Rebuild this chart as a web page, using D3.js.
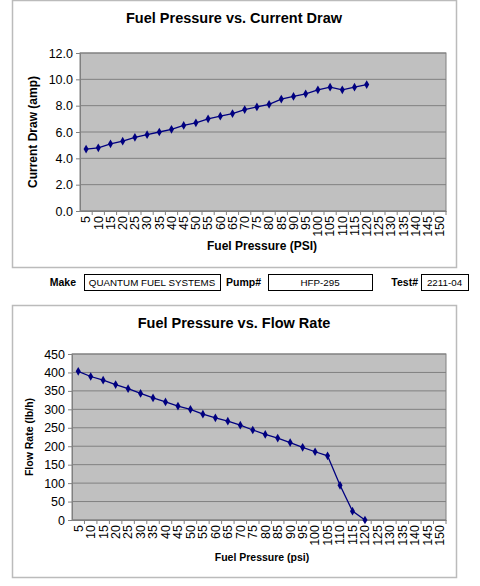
<!DOCTYPE html>
<html><head><meta charset="utf-8">
<script src="https://cdn.jsdelivr.net/npm/d3@7"></script>
<style>body{margin:0;background:#fff;font-family:"Liberation Sans",Arial,sans-serif}</style>
</head><body>
<script>
var pressures = d3.range(5, 155, 5);
var currentDraw = [4.7,4.8,5.1,5.3,5.6,5.8,6.0,6.2,6.5,6.7,7.0,7.2,7.4,7.7,7.9,8.1,8.5,8.7,8.9,9.2,9.4,9.2,9.4,9.6];
var flowRate = [403,389,379,367,356,343,331,320,309,300,287,277,268,257,244,232,222,210,197,185,174,94,24,0];
var currentTicks = [0,2,4,6,8,10,12];
var flowTicks = d3.range(0, 500, 50);

var svg = d3.select("body").append("svg").attr("width", 480).attr("height", 586);

function drawChart(cfg) {
  var g = svg.append("g");
  g.append("rect").attr("x", 12.5).attr("y", cfg.top + 0.5).attr("width", 444).attr("height", cfg.h)
    .attr("fill", "#fff").attr("stroke", "#bbb").attr("stroke-width", 1.5);
  g.append("text").attr("x", 234).attr("y", cfg.top + 23).attr("text-anchor", "middle")
    .attr("font-size", 14.5).attr("font-weight", "bold").text(cfg.title);

  var x = d3.scaleBand().domain(pressures).range([cfg.left, 446]);
  var y = d3.scaleLinear().domain(cfg.domain).range([cfg.bottom, cfg.plotTop]);

  g.append("rect").attr("x", cfg.left).attr("y", cfg.plotTop).attr("width", 446 - cfg.left)
    .attr("height", cfg.bottom - cfg.plotTop).attr("fill", "#c0c0c0").attr("stroke", "#808080");

  g.selectAll("line.grid").data(cfg.ticks).enter().append("line").attr("class", "grid")
    .attr("x1", cfg.left).attr("x2", 446).attr("y1", d => y(d)).attr("y2", d => y(d))
    .attr("stroke", "#808080");

  var yAxis = d3.axisLeft(y).tickValues(cfg.ticks).tickSize(4).tickFormat(cfg.fmt);
  var ya = g.append("g").attr("transform", `translate(${cfg.left},0)`).call(yAxis);
  ya.select(".domain").attr("stroke", "#808080");
  ya.selectAll(".tick line").attr("stroke", "#808080");
  ya.selectAll("text").attr("font-size", 12.5).attr("font-family", "Liberation Sans, Arial").attr("fill", "#000");

  var xAxis = d3.axisBottom(x).tickSize(4).tickSizeOuter(0);
  var xa = g.append("g").attr("transform", `translate(0,${cfg.bottom})`).call(xAxis);
  xa.select(".domain").attr("stroke", "#808080");
  xa.selectAll(".tick line").attr("stroke", "#808080").attr("transform", `translate(${x.bandwidth() / 2},0)`);
  xa.selectAll("text").attr("font-size", 12.5).attr("font-family", "Liberation Sans, Arial").attr("fill", "#000")
    .attr("transform", "rotate(-90)").attr("text-anchor", "end").attr("x", -5).attr("y", 0).attr("dy", "0.35em");

  var line = d3.line().x((d, i) => x(pressures[i]) + x.bandwidth() / 2).y(d => y(d));
  g.append("path").datum(cfg.data).attr("d", line).attr("fill", "none").attr("stroke", "#000080").attr("stroke-width", 1.3);
  g.selectAll("path.pt").data(cfg.data).enter().append("path").attr("class", "pt")
    .attr("d", d3.symbol(d3.symbolDiamond, 22))
    .attr("transform", (d, i) => `translate(${x(pressures[i]) + x.bandwidth() / 2},${y(d)})`)
    .attr("fill", "#000080");

  g.append("text").attr("x", 262).attr("y", cfg.xLabelY).attr("text-anchor", "middle")
    .attr("font-size", cfg.labelSize).attr("font-weight", "bold").text(cfg.xLabel);
  g.append("text").attr("transform", `translate(${cfg.yLabelX},${(cfg.plotTop + cfg.bottom) / 2}) rotate(-90)`)
    .attr("text-anchor", "middle").attr("font-size", cfg.labelSize).attr("font-weight", "bold").text(cfg.yLabel);
}

drawChart({top: 0, h: 267, title: "Fuel Pressure vs. Current Draw", left: 80, plotTop: 53, bottom: 211,
  domain: [0, 12], ticks: currentTicks, fmt: d3.format(".1f"), data: currentDraw,
  xLabel: "Fuel Pressure (PSI)", yLabel: "Current Draw (amp)", xLabelY: 250, yLabelX: 37, labelSize: 12});

drawChart({top: 305, h: 272, title: "Fuel Pressure vs. Flow Rate", left: 72, plotTop: 354, bottom: 520,
  domain: [0, 450], ticks: flowTicks, fmt: d3.format("d"), data: flowRate,
  xLabel: "Fuel Pressure (psi)", yLabel: "Flow Rate (lb/h)", xLabelY: 561, yLabelX: 33, labelSize: 10.5});

// info row
var info = [
  {label: "Make", lx: 76, bx: 84, bw: 136, value: "QUANTUM FUEL SYSTEMS"},
  {label: "Pump#", lx: 261, bx: 268, bw: 104, value: "HFP-295"},
  {label: "Test#", lx: 418, bx: 421, bw: 47, value: "2211-04"}
];
var row = svg.append("g");
info.forEach(function (d) {
  row.append("text").attr("x", d.lx).attr("y", 286).attr("text-anchor", "end")
    .attr("font-size", 10.5).attr("font-weight", "bold").text(d.label);
  row.append("rect").attr("x", d.bx + 0.5).attr("y", 274.5).attr("width", d.bw).attr("height", 16)
    .attr("fill", "#fff").attr("stroke", "#000");
  row.append("text").attr("x", d.bx + d.bw / 2).attr("y", 286).attr("text-anchor", "middle")
    .attr("font-size", 9.8).text(d.value);
});
</script>
</body></html>
